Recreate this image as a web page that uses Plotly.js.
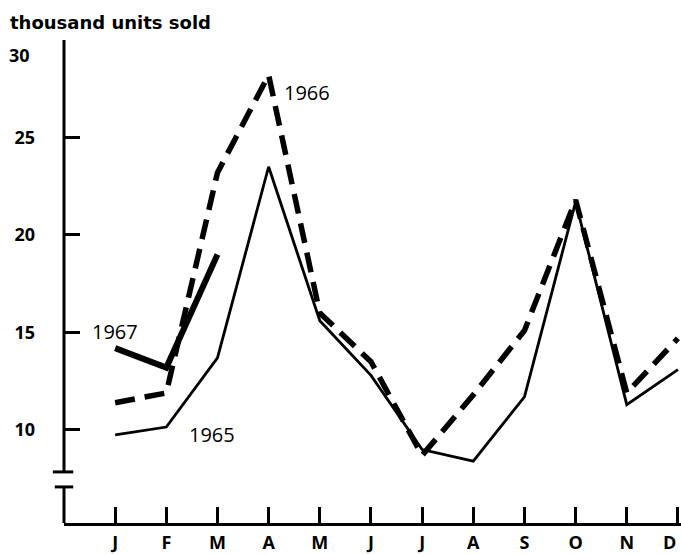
<!DOCTYPE html>
<html>
<head>
<meta charset="utf-8">
<script src="https://cdn.plot.ly/plotly-3.0.1.min.js"></script>
<style>html,body{margin:0;padding:0;background:#fff;}#chart{width:681px;height:554px;}</style>
</head>
<body>
<div id="chart"></div>
<script>
const months = ["J","F","M","A","M","J","J","A","S","O","N","D"];
const monthIdx = [0,1,2,3,4,5,6,7,8,9,10,11];
const sales1965 = [9.75, 10.15, 13.7, 23.5, 15.6, 12.8, 9.0, 8.4, 11.7, 21.7, 11.3, 13.1];
const sales1966 = [11.4, 11.9, 23.2, 28.2, 16.0, 13.5, 8.7, 11.8, 15.1, 21.8, 11.9, 14.7];
const sales1967 = [14.2, 13.2, 19.0];
const yTicks = [10, 15, 20, 25, 30];
const yTickText = ["10", "15", "20", "25", ""];

const FONT = "Open Sans, Lato, DejaVu Sans, sans-serif";
const TITLEFONT = "DejaVu Sans, Open Sans, sans-serif";

// last month label is placed as an annotation so it stays inside the page edge
const xTickText = months.map((m, i) => i === months.length - 1 ? "" : m);

const traces = [
  {x: monthIdx, y: sales1965, mode: "lines", line: {color: "#000", width: 2.8}, name: "1965", cliponaxis: false},
  {x: monthIdx, y: sales1966, mode: "lines", line: {color: "#000", width: 5.5, dash: "20px,10px"}, name: "1966", cliponaxis: false},
  {x: monthIdx.slice(0, sales1967.length), y: sales1967, mode: "lines", line: {color: "#000", width: 6}, name: "1967", cliponaxis: false}
];

const yBreakTop = 7.85, yBreakBot = 7.08, yMin = 5.23, yMax = 30;

const layout = {
  width: 681, height: 554,
  margin: {l: 64, r: 0, t: 40, b: 31},
  paper_bgcolor: "#fff", plot_bgcolor: "#fff",
  showlegend: false,
  font: {family: FONT, color: "#000"},
  xaxis: {
    range: [-1, 11.06], tickvals: monthIdx, ticktext: xTickText,
    showgrid: false, zeroline: false, showline: true, linecolor: "#000", linewidth: 3,
    ticks: "inside", ticklen: 16, tickwidth: 3, tickcolor: "#000",
    tickfont: {family: FONT, size: 18, color: "#000", weight: "bold"},
    ticklabelstandoff: 1, ticklabeloverflow: "allow"
  },
  yaxis: {
    range: [yMin, yMax], tickvals: yTicks, ticktext: yTickText,
    showgrid: false, zeroline: false, showline: false,
    ticks: "inside", ticklen: 16, tickwidth: 3, tickcolor: "#000",
    tickfont: {family: FONT, size: 18, color: "#000", weight: "bold"},
    ticklabelstandoff: 28
  },
  shapes: [
    {type: "line", xref: "paper", yref: "y", x0: 0, x1: 0, y0: yMax, y1: yBreakTop, line: {color: "#000", width: 3}},
    {type: "line", xref: "paper", yref: "y", x0: -0.018, x1: 0.015, y0: yBreakTop, y1: yBreakTop, line: {color: "#000", width: 3}},
    {type: "line", xref: "paper", yref: "y", x0: -0.015, x1: 0.015, y0: yBreakBot, y1: yBreakBot, line: {color: "#000", width: 3}},
    {type: "line", xref: "paper", yref: "y", x0: 0, x1: 0, y0: yBreakBot, y1: yMin, line: {color: "#000", width: 3}}
  ],
  annotations: [
    {text: "thousand units sold", xref: "paper", yref: "paper", x: -0.091, y: 1.0, yshift: 18, xanchor: "left", yanchor: "middle", showarrow: false,
     font: {family: TITLEFONT, size: 18, color: "#000", weight: "bold"}},
    {text: "30", xref: "paper", yref: "y", x: 0, y: 30, xshift: -32, yshift: -15, xanchor: "right", yanchor: "middle", showarrow: false,
     font: {family: FONT, size: 18, color: "#000", weight: "bold"}},
    {text: months[11], xref: "x", yref: "paper", x: monthIdx[11], y: 0, xshift: -8, yshift: -5, xanchor: "center", yanchor: "top", showarrow: false,
     font: {family: FONT, size: 18, color: "#000", weight: "bold"}},
    {text: "1967", xref: "x", yref: "y", x: 0, y: 15.05, showarrow: false, font: {family: FONT, size: 20, color: "#000"}},
    {text: "1965", xref: "x", yref: "y", x: 1.9, y: 9.75, showarrow: false, font: {family: FONT, size: 20, color: "#000"}},
    {text: "1966", xref: "x", yref: "y", x: 3.75, y: 27.3, showarrow: false, font: {family: FONT, size: 20, color: "#000"}}
  ]
};

Plotly.newPlot("chart", traces, layout, {displayModeBar: false, staticPlot: true});
</script>
</body>
</html>
